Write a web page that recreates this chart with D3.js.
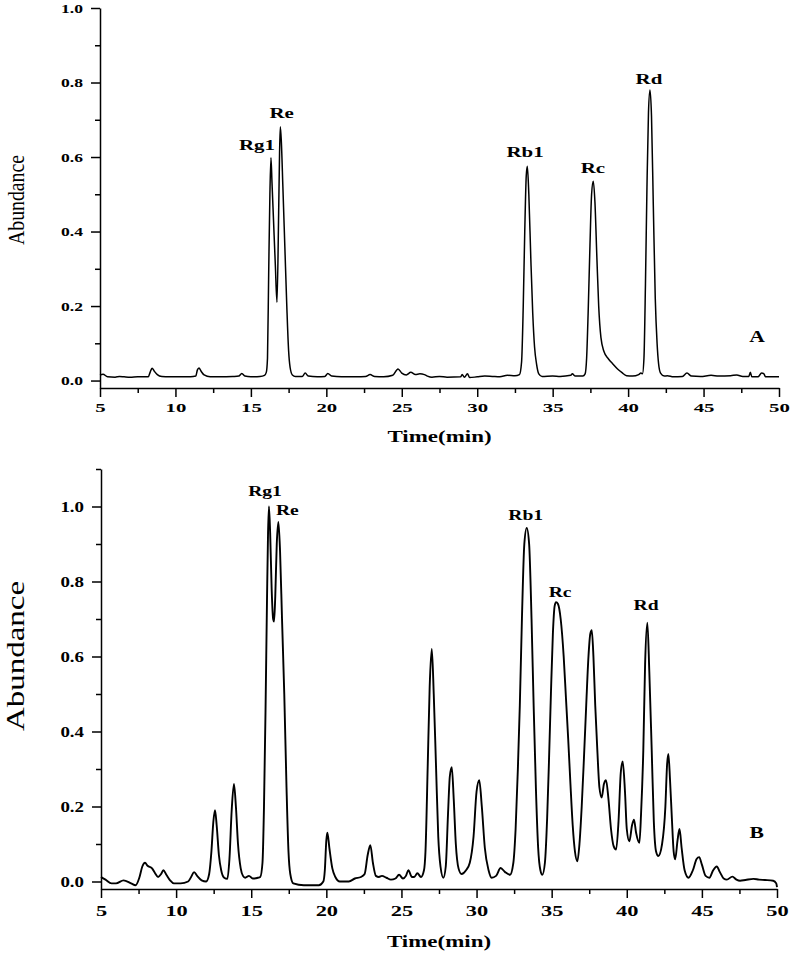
<!DOCTYPE html>
<html>
<head>
<meta charset="utf-8">
<script src="https://cdn.jsdelivr.net/npm/d3@7/dist/d3.min.js"></script>
<style>
  body { margin: 0; background: #fff; }
  svg text { font-family: "Liberation Serif", "Times New Roman", serif; fill: #000; }
</style>
</head>
<body>
<div id="chart"></div>
<script>
// chromatogram A (standards): [time (min), abundance]
var traceA = [
  [5.0,0.015],[5.2,0.017],[5.5,0.010],[6.0,0.009],[6.3,0.011],[6.6,0.010],[7.0,0.009],[7.5,0.010],
  [8.2,0.010],[8.32,0.022],[8.45,0.033],[8.6,0.025],[8.8,0.016],[9.1,0.011],[9.6,0.010],[10.3,0.010],
  [11.0,0.010],[11.35,0.012],[11.45,0.028],[11.56,0.034],[11.7,0.025],[11.9,0.015],[12.3,0.010],
  [13.0,0.010],[13.8,0.011],[14.2,0.012],[14.4,0.019],[14.6,0.012],[15.0,0.010],[15.6,0.011],
  [15.9,0.014],[16.02,0.022],[16.1,0.06],[16.18,0.29],[16.26,0.50],[16.33,0.598],[16.4,0.53],
  [16.5,0.43],[16.62,0.31],[16.73,0.21],[16.84,0.45],[16.9,0.61],[16.95,0.681],[17.02,0.64],
  [17.12,0.52],[17.25,0.36],[17.38,0.20],[17.5,0.08],[17.6,0.035],[17.75,0.015],[17.95,0.011],
  [18.4,0.011],[18.6,0.020],[18.8,0.012],[19.4,0.010],[19.9,0.011],[20.1,0.019],[20.35,0.012],
  [21.0,0.010],[22.0,0.010],[22.6,0.011],[22.9,0.016],[23.2,0.011],[23.8,0.010],[24.4,0.014],
  [24.75,0.031],[25.0,0.020],[25.3,0.015],[25.6,0.022],[25.9,0.016],[26.2,0.018],[26.5,0.016],
  [26.7,0.012],[27.0,0.009],[27.5,0.011],[28.0,0.009],[28.9,0.010],[29.0,0.016],[29.15,0.009],
  [29.35,0.018],[29.5,0.008],[30.0,0.010],[30.5,0.012],[31.0,0.011],[31.5,0.010],[32.0,0.014],
  [32.5,0.013],[32.8,0.016],[32.94,0.05],[33.05,0.20],[33.15,0.40],[33.25,0.55],[33.32,0.575],
  [33.42,0.50],[33.55,0.33],[33.68,0.18],[33.8,0.09],[33.93,0.045],[34.08,0.018],[34.3,0.011],
  [35.0,0.012],[35.5,0.011],[36.2,0.014],[36.3,0.018],[36.5,0.012],[37.0,0.012],[37.15,0.018],
  [37.25,0.06],[37.35,0.18],[37.47,0.36],[37.58,0.50],[37.69,0.535],[37.8,0.48],[37.93,0.33],
  [38.05,0.20],[38.2,0.115],[38.4,0.078],[38.7,0.058],[39.0,0.044],[39.3,0.031],[39.6,0.021],
  [39.9,0.013],[40.3,0.012],[40.7,0.016],[40.85,0.020],[40.95,0.018],[41.05,0.06],[41.15,0.26],
  [41.25,0.52],[41.35,0.72],[41.45,0.78],[41.55,0.71],[41.67,0.47],[41.8,0.22],[41.92,0.10],
  [42.02,0.045],[42.15,0.020],[42.4,0.012],[42.6,0.013],[43.0,0.010],[43.6,0.011],[43.9,0.020],
  [44.2,0.012],[44.8,0.011],[45.5,0.014],[46.0,0.012],[46.8,0.013],[47.2,0.015],[47.6,0.011],
  [48.0,0.011],[48.1,0.022],[48.2,0.010],[48.6,0.010],[48.85,0.020],[49.0,0.018],[49.1,0.010],
  [50.0,0.010]
];

// chromatogram B (sample)
var traceB = [
  [5.0,0.012],[5.3,0.005],[5.7,-0.005],[6.0,-0.005],[6.5,0.003],[7.0,-0.005],[7.3,-0.010],
  [7.55,0.010],[7.75,0.040],[7.93,0.050],[8.1,0.042],[8.4,0.035],[8.6,0.022],[8.8,0.012],
  [9.0,0.020],[9.15,0.030],[9.35,0.018],[9.6,0.003],[9.85,-0.005],[10.3,-0.005],[10.8,0.0],
  [11.0,0.012],[11.2,0.025],[11.4,0.015],[11.7,0.003],[12.0,0.0],[12.2,0.020],[12.35,0.08],
  [12.48,0.16],[12.59,0.19],[12.7,0.15],[12.85,0.07],[13.0,0.03],[13.2,0.010],[13.41,0.007],
  [13.55,0.06],[13.7,0.19],[13.85,0.26],[13.98,0.20],[14.12,0.10],[14.3,0.035],[14.45,0.015],
  [14.6,0.010],[14.85,0.015],[15.1,0.008],[15.45,0.010],[15.6,0.012],[15.75,0.05],[15.85,0.20],
  [15.95,0.45],[16.05,0.75],[16.12,0.93],[16.18,1.0],[16.26,0.93],[16.36,0.78],[16.46,0.70],
  [16.52,0.693],[16.6,0.76],[16.7,0.90],[16.81,0.959],[16.92,0.88],[17.05,0.70],[17.2,0.50],
  [17.35,0.25],[17.48,0.08],[17.6,0.02],[17.8,-0.005],[18.5,-0.010],[19.5,-0.010],[19.8,0.0],
  [19.9,0.03],[20.0,0.11],[20.07,0.13],[20.2,0.09],[20.4,0.035],[20.6,0.012],[20.9,0.0],
  [21.5,0.0],[21.9,0.008],[22.3,0.012],[22.55,0.020],[22.75,0.07],[22.93,0.097],[23.1,0.05],
  [23.3,0.015],[23.5,0.012],[23.7,0.015],[24.0,0.010],[24.3,0.005],[24.6,0.008],[24.84,0.018],
  [25.1,0.008],[25.3,0.015],[25.46,0.030],[25.7,0.012],[25.85,0.012],[26.06,0.022],[26.3,0.012],
  [26.5,0.030],[26.6,0.08],[26.75,0.31],[26.88,0.52],[27.02,0.62],[27.15,0.50],[27.3,0.31],
  [27.45,0.12],[27.6,0.04],[27.79,0.010],[27.95,0.04],[28.1,0.18],[28.22,0.28],[28.35,0.305],
  [28.48,0.22],[28.62,0.10],[28.8,0.035],[29.0,0.020],[29.3,0.030],[29.55,0.05],[29.8,0.12],
  [30.0,0.24],[30.18,0.27],[30.35,0.20],[30.55,0.09],[30.8,0.03],[31.0,0.010],[31.3,0.015],
  [31.6,0.036],[31.9,0.025],[32.23,0.018],[32.45,0.05],[32.6,0.14],[32.75,0.30],[32.88,0.47],
  [33.02,0.70],[33.18,0.90],[33.34,0.943],[33.5,0.90],[33.66,0.70],[33.8,0.47],[33.95,0.25],
  [34.1,0.09],[34.25,0.03],[34.38,0.018],[34.55,0.05],[34.7,0.17],[34.82,0.32],[34.95,0.50],
  [35.08,0.66],[35.2,0.735],[35.29,0.745],[35.42,0.74],[35.6,0.70],[35.8,0.60],[35.95,0.49],
  [36.1,0.38],[36.25,0.26],[36.4,0.15],[36.55,0.08],[36.71,0.054],[36.85,0.10],[37.0,0.20],
  [37.15,0.33],[37.3,0.47],[37.45,0.60],[37.57,0.66],[37.67,0.67],[37.78,0.60],[37.9,0.47],
  [38.04,0.35],[38.18,0.25],[38.33,0.224],[38.48,0.26],[38.62,0.27],[38.78,0.22],[38.95,0.14],
  [39.12,0.095],[39.29,0.085],[39.45,0.16],[39.6,0.29],[39.73,0.32],[39.88,0.24],[40.0,0.14],
  [40.17,0.107],[40.35,0.15],[40.48,0.165],[40.62,0.13],[40.84,0.103],[40.95,0.18],[41.1,0.35],
  [41.22,0.58],[41.37,0.69],[41.5,0.56],[41.66,0.35],[41.8,0.16],[41.95,0.08],[42.1,0.068],
  [42.35,0.10],[42.57,0.20],[42.68,0.31],[42.77,0.34],[42.88,0.27],[43.0,0.17],[43.12,0.08],
  [43.22,0.059],[43.38,0.11],[43.51,0.14],[43.65,0.09],[43.85,0.03],[44.11,0.010],[44.4,0.03],
  [44.65,0.06],[44.82,0.065],[45.0,0.045],[45.25,0.015],[45.5,0.010],[45.75,0.03],[45.99,0.04],
  [46.2,0.025],[46.45,0.008],[46.66,0.005],[47.03,0.013],[47.3,0.005],[47.54,0.002],[47.9,0.004],
  [48.43,0.007],[48.8,0.005],[49.2,0.004],[49.75,0.002],[49.95,-0.005],[50.0,-0.015]
];

var peakNames = ['Rg1', 'Re', 'Rb1', 'Rc', 'Rd'];
// where each peak name sits, [time, abundance]
var peakLabelA = [[15.40,0.620],[17.04,0.706],[33.17,0.599],[37.67,0.558],[41.38,0.795]];
var peakLabelB = [[15.92,1.028],[17.40,0.977],[33.27,0.963],[35.56,0.759],[41.28,0.725]];
var panelNames = ['A', 'B'];
var panelLabelAt = [[48.54,0.103],[48.65,0.117]];

var xTicks = [5, 10, 15, 20, 25, 30, 35, 40, 45, 50];
var xMinorTicks = [7.5, 12.5, 17.5, 22.5, 27.5, 32.5, 37.5, 42.5, 47.5];
var yTicks = [0, 0.2, 0.4, 0.6, 0.8, 1.0];
var yMinorTicksA = [0.1, 0.3, 0.5, 0.7, 0.9];
var yMinorTicksB = [0.1, 0.3, 0.5, 0.7, 0.9, 1.1];
var xTitle = 'Time(min)';
var yTitle = 'Abundance';

var width = 790,
    height = 956,
    stretch = 1.35; // the figure text is drawn wide

var svg = d3.select('#chart').append('svg')
    .attr('width', width)
    .attr('height', height);

function drawPanel(p) {
    var x = d3.scaleLinear().domain([5, 50]).range([p.left, p.right]);
    var y = d3.scaleLinear().domain(p.yDomain).range([p.bottom, p.top]);
    var g = svg.append('g');

    // minor ticks first, no domain line
    g.append('g')
        .attr('transform', 'translate(0,' + p.bottom + ')')
        .call(d3.axisBottom(x).tickValues(xMinorTicks).tickSize(5).tickFormat(''))
        .call(function(a) { a.select('.domain').remove(); });
    g.append('g')
        .attr('transform', 'translate(' + p.left + ',0)')
        .call(d3.axisLeft(y).tickValues(p.yMinor).tickSize(5).tickFormat(''))
        .call(function(a) { a.select('.domain').remove(); });

    var xAxis = g.append('g')
        .attr('transform', 'translate(0,' + p.bottom + ')')
        .call(d3.axisBottom(x).tickValues(xTicks).tickSize(9).tickSizeOuter(0).tickFormat(d3.format('d')));
    xAxis.selectAll('text')
        .attr('x', 0).attr('y', 0).attr('dy', 0)
        .attr('transform', 'translate(0,' + p.xLabelDrop + ') scale(1.6,1)')
        .style('font-size', p.tickFont + 'px')
        .style('font-weight', 'bold');

    var yAxis = g.append('g')
        .attr('transform', 'translate(' + p.left + ',0)')
        .call(d3.axisLeft(y).tickValues(yTicks).tickSize(9).tickSizeOuter(0).tickFormat(d3.format('.1f')));
    yAxis.selectAll('text')
        .attr('x', 0).attr('y', 0).attr('dy', 0)
        .attr('transform', 'translate(-17,' + (p.tickFont * 0.33) + ') scale(' + stretch + ',1)')
        .style('font-size', p.tickFont + 'px')
        .style('font-weight', 'bold');

    g.selectAll('.domain, .tick line')
        .style('stroke', '#000')
        .style('stroke-width', '1.5px');

    var line = d3.line()
        .x(function(d) { return x(d[0]); })
        .y(function(d) { return y(d[1]); })
        .curve(d3.curveMonotoneX);
    g.append('path')
        .datum(p.trace)
        .attr('d', line)
        .style('fill', 'none')
        .style('stroke', '#000')
        .style('stroke-width', p.lineWidth + 'px')
        .style('stroke-linejoin', 'round');

    g.selectAll('.peak')
        .data(p.labels)
        .enter().append('text')
        .attr('class', 'peak')
        .attr('text-anchor', 'middle')
        .attr('transform', function(d) { return 'translate(' + x(d[0]) + ',' + y(d[1]) + ') scale(' + stretch + ',1)'; })
        .style('font-size', p.peakFont + 'px')
        .style('font-weight', 'bold')
        .text(function(d, i) { return peakNames[i]; });

    g.append('text')
        .attr('text-anchor', 'middle')
        .attr('transform', 'translate(' + x(p.nameAt[0]) + ',' + y(p.nameAt[1]) + ') scale(' + stretch + ',1)')
        .style('font-size', '16px')
        .style('font-weight', 'bold')
        .text(p.name);

    g.append('text')
        .attr('text-anchor', 'middle')
        .attr('transform', 'translate(' + ((p.left + p.right) / 2) + ',' + p.xTitleY + ') scale(' + stretch + ',1)')
        .style('font-size', '17px')
        .style('font-weight', 'bold')
        .text(xTitle);

    g.append('text')
        .attr('text-anchor', 'middle')
        .attr('transform', 'translate(24,' + p.yTitleY + ') rotate(-90) scale(' + p.yTitleScale + ')')
        .style('font-size', p.yTitleFont + 'px')
        .text(yTitle);
}

drawPanel({
    trace: traceA, labels: peakLabelA, name: panelNames[0], nameAt: panelLabelAt[0],
    yDomain: [-0.02, 1.0], yMinor: yMinorTicksA,
    left: 100, right: 779, top: 8, bottom: 388,
    tickFont: 13, xLabelDrop: 24, xTitleY: 442, lineWidth: 1.5, peakFont: 15.5,
    yTitleY: 200, yTitleFont: 18, yTitleScale: '1.1,1.3'
});

drawPanel({
    trace: traceB, labels: peakLabelB, name: panelNames[1], nameAt: panelLabelAt[1],
    yDomain: [-0.02, 1.1], yMinor: yMinorTicksB,
    left: 101, right: 777, top: 469, bottom: 889,
    tickFont: 14, xLabelDrop: 27, xTitleY: 947, lineWidth: 1.9, peakFont: 14.5,
    yTitleY: 656, yTitleFont: 20, yTitleScale: '1.65,1.3'
});
</script>
</body>
</html>
